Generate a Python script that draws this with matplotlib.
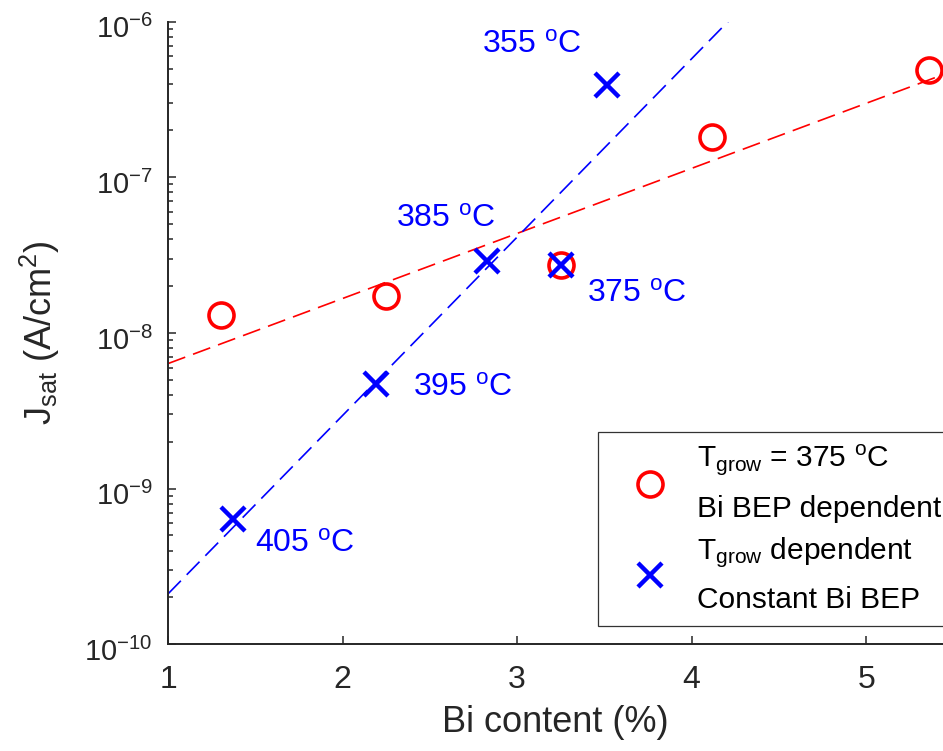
import numpy as np
import matplotlib
matplotlib.use('Agg')
import matplotlib.pyplot as plt
import matplotlib.transforms as mtransforms
from matplotlib.ticker import NullFormatter

# T_grow = 375 C, Bi BEP varied
bi_bep = [1.305, 2.25, 3.253, 4.116, 5.36]
jsat_bep = [1.30e-8, 1.72e-8, 2.74e-8, 1.81e-7, 4.90e-7]

# growth temperature varied, constant Bi BEP
bi_temp = [1.371, 2.193, 2.827, 3.253, 3.517]
jsat_temp = [6.34e-10, 4.73e-9, 2.91e-8, 2.74e-8, 3.93e-7]
temps = ['405', '395', '385', '375', '355']

xticks = [1, 2, 3, 4, 5]
yticks = [1e-10, 1e-9, 1e-8, 1e-7, 1e-6]

plt.rcParams['font.family'] = ['Liberation Sans', 'DejaVu Sans']
plt.rcParams['mathtext.fontset'] = 'custom'
plt.rcParams['mathtext.rm'] = 'Liberation Sans'
plt.rcParams['mathtext.it'] = 'Liberation Sans:italic'
gray = '#262626'

fig = plt.figure(figsize=(9.43, 7.51), dpi=100)
ax = fig.add_axes([0.1782, 0.1421, 0.8218, 0.829])
ax.set_yscale('log')
ax.set_xlim(1, 5.44)
ax.set_ylim(1e-10, 1e-6)

# exponential fits (straight lines on log axis)
xl = np.array(ax.get_xlim())
p_red = np.polyfit(bi_bep, np.log10(jsat_bep), 1)
p_blue = np.polyfit(bi_temp, np.log10(jsat_temp), 1)
ax.plot(xl, 10 ** np.polyval(p_red, xl), color='red', lw=1.2, ls=(0, (11, 5)), zorder=2)
ax.plot(xl, 10 ** np.polyval(p_blue, xl), color='blue', lw=1.2, ls=(0, (11, 5)), zorder=2)

ax.plot(bi_bep, jsat_bep, 'o', ls='none', mfc='none', mec='red', ms=18, mew=2.6,
        label='$\\mathregular{T_{grow}}$ = 375 $\\mathregular{^o}$C\nBi BEP dependent', zorder=3)
ax.plot(bi_temp, jsat_temp, 'x', ls='none', color='blue', ms=17, mew=3.2,
        label='$\\mathregular{T_{grow}}$ dependent\nConstant Bi BEP', zorder=4)

# temperature labels next to the blue points (offsets in pixels)
offs = [(22, -32), (37, -12), (-91, 34), (26, -37), (-125, 32)]
for x, y, t, o in zip(bi_temp, jsat_temp, temps, offs):
    ax.annotate(t + ' $\\mathregular{^o}$C', (x, y), xytext=o, textcoords='offset pixels',
                color='blue', fontsize=23, ha='left', va='baseline')

ax.set_xticks(xticks)
ax.set_xticklabels([str(v) for v in xticks])
ax.set_yticks(yticks)
ax.yaxis.set_minor_formatter(NullFormatter())
for s in ['top', 'right']:
    ax.spines[s].set_visible(False)
for s in ['left', 'bottom']:
    ax.spines[s].set_linewidth(1.4)
    ax.spines[s].set_color(gray)
ax.tick_params(which='both', direction='in', colors=gray, width=1.1)
ax.tick_params(which='major', length=5.5)
ax.tick_params(which='minor', length=3.5)
ax.tick_params(axis='x', labelsize=23, pad=15)
ax.tick_params(axis='y', labelsize=21, pad=11)

# matlab puts the 10^n labels a bit lower than the tick
shift = mtransforms.ScaledTranslation(0, -5 / 100, fig.dpi_scale_trans)
for lab in ax.get_yticklabels():
    lab.set_transform(lab.get_transform() + shift)

ax.set_xlabel('Bi content (%)', fontsize=26, color=gray)
ax.set_ylabel('$\\mathregular{J_{sat}}$ (A/cm$\\mathregular{^2}$)', fontsize=26, color=gray)
ax.xaxis.set_label_coords(0.5, -0.098)
ax.yaxis.set_label_coords(-0.137, 0.5)

leg = ax.legend(loc='lower left', bbox_to_anchor=(0.555, 0.0294), borderaxespad=0,
                fontsize=21.5, frameon=True, fancybox=False, framealpha=1, edgecolor='#333333',
                borderpad=0.4, handlelength=2.68, handletextpad=0.23, labelspacing=0.4)
leg.get_frame().set_linewidth(0.9)
for t in leg.get_texts():
    t.set_linespacing(1.75)

fig.savefig('out.png', dpi=100)
